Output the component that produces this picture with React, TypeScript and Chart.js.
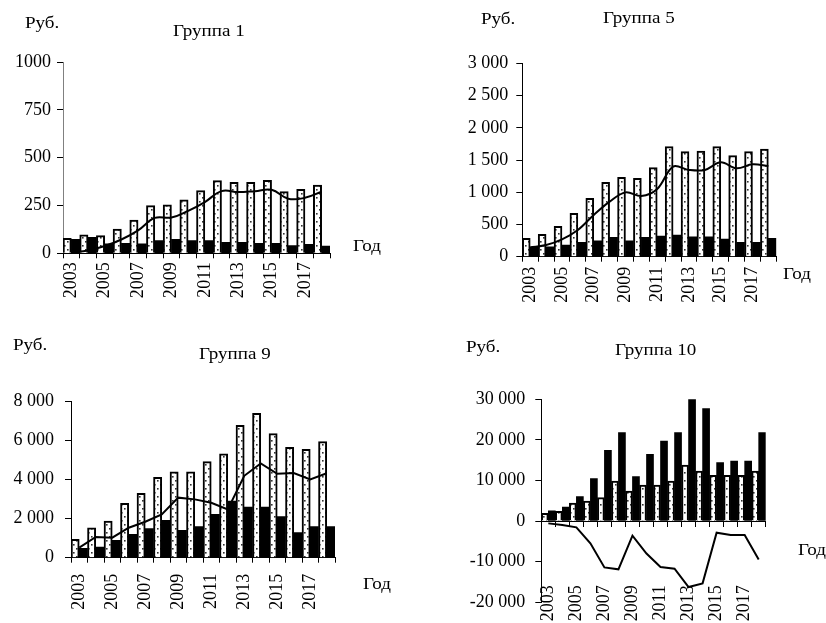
import React, { useEffect, useRef } from 'react';
import { Chart, registerables } from 'chart.js';

Chart.register(...registerables);

const FONT = "'Liberation Serif', 'Times New Roman', serif";
const TICK_SIZE = 18;

const years = ['2003', '2004', '2005', '2006', '2007', '2008', '2009', '2010', '2011', '2012', '2013', '2014', '2015', '2016', '2017', '2018'];

// Группа 1
const g1Dotted = [78, 96, 92, 127, 174, 249, 253, 279, 328, 380, 371, 371, 382, 322, 334, 357];
const g1Black = [73, 84, 50, 52, 50, 66, 73, 66, 66, 57, 57, 52, 52, 40, 47, 38];
const g1Line = [5, 15, 38, 72, 120, 185, 187, 222, 268, 325, 320, 325, 332, 285, 290, 322];

// Группа 5
const g5Dotted = [285, 347, 471, 672, 905, 1154, 1231, 1216, 1381, 1707, 1630, 1640, 1707, 1567, 1630, 1671];
const g5Black = [145, 155, 181, 222, 248, 300, 248, 300, 321, 336, 310, 310, 274, 222, 222, 285];
const g5Line = [145, 181, 269, 414, 647, 854, 998, 941, 1050, 1397, 1345, 1345, 1464, 1371, 1433, 1407];

// Группа 9
const g9Dotted = [940, 1538, 1880, 2786, 3299, 4120, 4410, 4410, 4923, 5333, 6786, 7402, 6359, 5658, 5556, 5949];
const g9Black = [479, 547, 889, 1197, 1487, 1915, 1402, 1590, 2222, 2906, 2598, 2598, 2103, 1282, 1590, 1590];
const g9Line = [520, 1060, 1026, 1538, 1846, 2222, 3080, 2991, 2820, 2479, 4200, 4838, 4300, 4340, 4017, 4330];

// Группа 10
const g10Dotted = [1900, 2400, 4450, 4930, 5752, 9860, 7395, 8874, 8874, 9860, 13804, 12325, 11257, 11257, 11257, 12325];
const g10Black = [2500, 3451, 5998, 10435, 17420, 21775, 10929, 16434, 19721, 21775, 30000, 27691, 14380, 14790, 14790, 21775];
const g10Line = [-575, -1000, -1560, -5500, -11420, -11900, -3600, -8000, -11340, -11750, -16270, -15365, -2876, -3451, -3451, -9450];

// y-axis ticks
const g1Ticks = { min: 0, max: 1000, step: 250 };
const g5Ticks = { min: 0, max: 3000, step: 500 };
const g9Ticks = { min: 0, max: 8000, step: 2000 };
const g10Ticks = { min: -20000, max: 30000, step: 10000 };

type PanelCfg = {
  id: string;
  title: string;
  left: number;
  top: number;
  width: number;
  height: number;
  padTop: number;
  padRight: number;
  yWidth: number;
  xHeight: number;
  dotted: number[];
  black: number[];
  line: number[];
  yr: { min: number; max: number; step: number };
  grouped: boolean;
  tension: number;
  yBorderColor: string;
  yTickPad: number;
  xTickPad: number;
  zeroAxis: boolean;
  rub: [number, number];
  titlePos: [number, number];
  god: [number, number];
};

const panels: PanelCfg[] = [
  {
    id: 'g1', title: 'Группа 1', left: 0, top: 0, width: 413, height: 311,
    padTop: 62, padRight: 83, yWidth: 63, xHeight: 57.7,
    dotted: g1Dotted, black: g1Black, line: g1Line, yr: g1Ticks, grouped: false,
    tension: 0.4, yBorderColor: '#808080', yTickPad: 6, xTickPad: 4, zeroAxis: false,
    rub: [25, 14], titlePos: [173, 22], god: [353, 237],
  },
  {
    id: 'g5', title: 'Группа 5', left: 413, top: 0, width: 413, height: 311,
    padTop: 63.3, padRight: 49.7, yWidth: 109.3, xHeight: 54.3,
    dotted: g5Dotted, black: g5Black, line: g5Line, yr: g5Ticks, grouped: true,
    tension: 0.35, yBorderColor: '#000', yTickPad: 8, xTickPad: 5, zeroAxis: false,
    rub: [481, 10], titlePos: [603, 9], god: [783, 265],
  },
  {
    id: 'g9', title: 'Группа 9', left: 0, top: 311, width: 413, height: 312,
    padTop: 90.7, padRight: 78, yWidth: 71, xHeight: 65.3,
    dotted: g9Dotted, black: g9Black, line: g9Line, yr: g9Ticks, grouped: true,
    tension: 0, yBorderColor: '#000', yTickPad: 11, xTickPad: 11, zeroAxis: false,
    rub: [13, 336], titlePos: [199, 345], god: [363, 575],
  },
  {
    // mirrored labels: y = scale top - padding, so a positive padding lifts them
    id: 'g10', title: 'Группа 10', left: 413, top: 311, width: 413, height: 312,
    padTop: 88.3, padRight: 60.3, yWidth: 128.3, xHeight: 20.3,
    dotted: g10Dotted, black: g10Black, line: g10Line, yr: g10Ticks, grouped: true,
    tension: 0, yBorderColor: '#000', yTickPad: 10, xTickPad: 17, zeroAxis: true,
    rub: [466, 338], titlePos: [615, 341], god: [798, 541],
  },
];

function fmt(v: number, grouped: boolean): string {
  const s = String(v);
  if (!grouped) return s;
  return s.replace(/\B(?=(\d{3})+(?!\d))/g, ' ');
}

function makePattern(): CanvasPattern | string {
  const c = document.createElement('canvas');
  c.width = 6;
  c.height = 8;
  const ctx = c.getContext('2d');
  if (!ctx) return '#fff';
  ctx.fillStyle = '#ffffff';
  ctx.fillRect(0, 0, 6, 8);
  ctx.fillStyle = '#333333';
  ctx.fillRect(1, 1, 1.6, 1.6);
  ctx.fillRect(4, 5, 1.6, 1.6);
  return ctx.createPattern(c, 'repeat') || '#fff';
}

function Panel({ p }: { p: PanelCfg }) {
  const ref = useRef<HTMLCanvasElement | null>(null);

  useEffect(() => {
    if (!ref.current) return;
    const font = { family: FONT, size: TICK_SIZE, lineHeight: 1.2 };
    const pattern = makePattern();
    const xTickCb = (_v: any, i: number) => (i % 2 === 0 ? years[i] : '');
    const labelTicks: any = {
      font,
      color: '#000',
      autoSkip: false,
      minRotation: 90,
      maxRotation: 90,
      padding: p.xTickPad,
      callback: xTickCb,
    };
    const xGrid = {
      offset: true,
      drawOnChartArea: false,
      drawTicks: true,
      tickLength: 5,
      color: '#000',
    };
    const scales: any = {
      y: {
        min: p.yr.min,
        max: p.yr.max,
        ticks: {
          stepSize: p.yr.step,
          font,
          color: '#000',
          padding: p.yTickPad,
          callback: (v: any) => fmt(Number(v), p.grouped),
        },
        grid: { drawOnChartArea: false, drawTicks: true, tickLength: 6, color: '#000' },
        border: { color: p.yBorderColor, width: 1 },
        afterFit: (s: any) => {
          s.width = p.yWidth;
        },
      },
    };
    if (p.zeroAxis) {
      scales.x = {
        type: 'category',
        position: { y: 0 },
        offset: true,
        grid: xGrid,
        border: { display: true, color: '#000', width: 1 },
        ticks: { display: false },
      };
      // mirrored labels are not clipped to the scale box, so they can rise above it
      scales.x2 = {
        type: 'category',
        position: 'bottom',
        offset: true,
        grid: { display: false, drawTicks: false },
        border: { display: false },
        ticks: { ...labelTicks, mirror: true, labelOffset: TICK_SIZE * 1.2 },
        afterFit: (s: any) => {
          s.height = p.xHeight;
        },
      };
    } else {
      scales.x = {
        type: 'category',
        position: 'bottom',
        offset: true,
        grid: xGrid,
        border: { display: true, color: '#000', width: 1 },
        ticks: labelTicks,
        afterFit: (s: any) => {
          s.height = p.xHeight;
        },
      };
    }

    const chart = new Chart(ref.current, {
      type: 'bar',
      data: {
        labels: years,
        datasets: [
          {
            type: 'bar',
            data: p.dotted,
            backgroundColor: pattern as any,
            borderColor: '#000',
            borderWidth: 2,
            barPercentage: 1,
            categoryPercentage: 1,
            order: 2,
          },
          {
            type: 'bar',
            data: p.black,
            backgroundColor: '#000',
            borderWidth: 0,
            barPercentage: 1,
            categoryPercentage: 1,
            order: 2,
          },
          {
            type: 'line',
            data: p.line,
            borderColor: '#000',
            borderWidth: 2,
            pointRadius: 0,
            fill: false,
            tension: p.tension,
            order: 1,
          } as any,
        ],
      },
      options: {
        responsive: false,
        animation: false,
        events: [],
        layout: {
          autoPadding: false,
          padding: { top: p.padTop, right: p.padRight, bottom: 0, left: 0 },
        } as any,
        plugins: {
          legend: { display: false },
          tooltip: { enabled: false },
          title: { display: false },
        },
        scales,
      },
    });
    return () => chart.destroy();
  }, [p]);

  return (
    <canvas
      ref={ref}
      width={p.width}
      height={p.height}
      style={{ position: 'absolute', left: p.left, top: p.top, width: p.width, height: p.height, display: 'block' }}
    />
  );
}

const textStyle: React.CSSProperties = {
  position: 'absolute',
  fontFamily: FONT,
  fontSize: 17,
  lineHeight: 1,
  color: '#000',
  whiteSpace: 'nowrap',
  transform: 'scaleX(1.12)',
  transformOrigin: 'left top',
};

export default function App() {
  return (
    <div style={{ position: 'fixed', left: 0, top: 0, width: 826, height: 623, background: '#fff', overflow: 'hidden' }}>
      {panels.map((p) => (
        <Panel key={p.id} p={p} />
      ))}
      {panels.map((p) => (
        <React.Fragment key={p.id + '-t'}>
          <div style={{ ...textStyle, left: p.rub[0], top: p.rub[1] }}>Руб.</div>
          <div style={{ ...textStyle, left: p.titlePos[0], top: p.titlePos[1] }}>{p.title}</div>
          <div style={{ ...textStyle, left: p.god[0], top: p.god[1] }}>Год</div>
        </React.Fragment>
      ))}
    </div>
  );
}
